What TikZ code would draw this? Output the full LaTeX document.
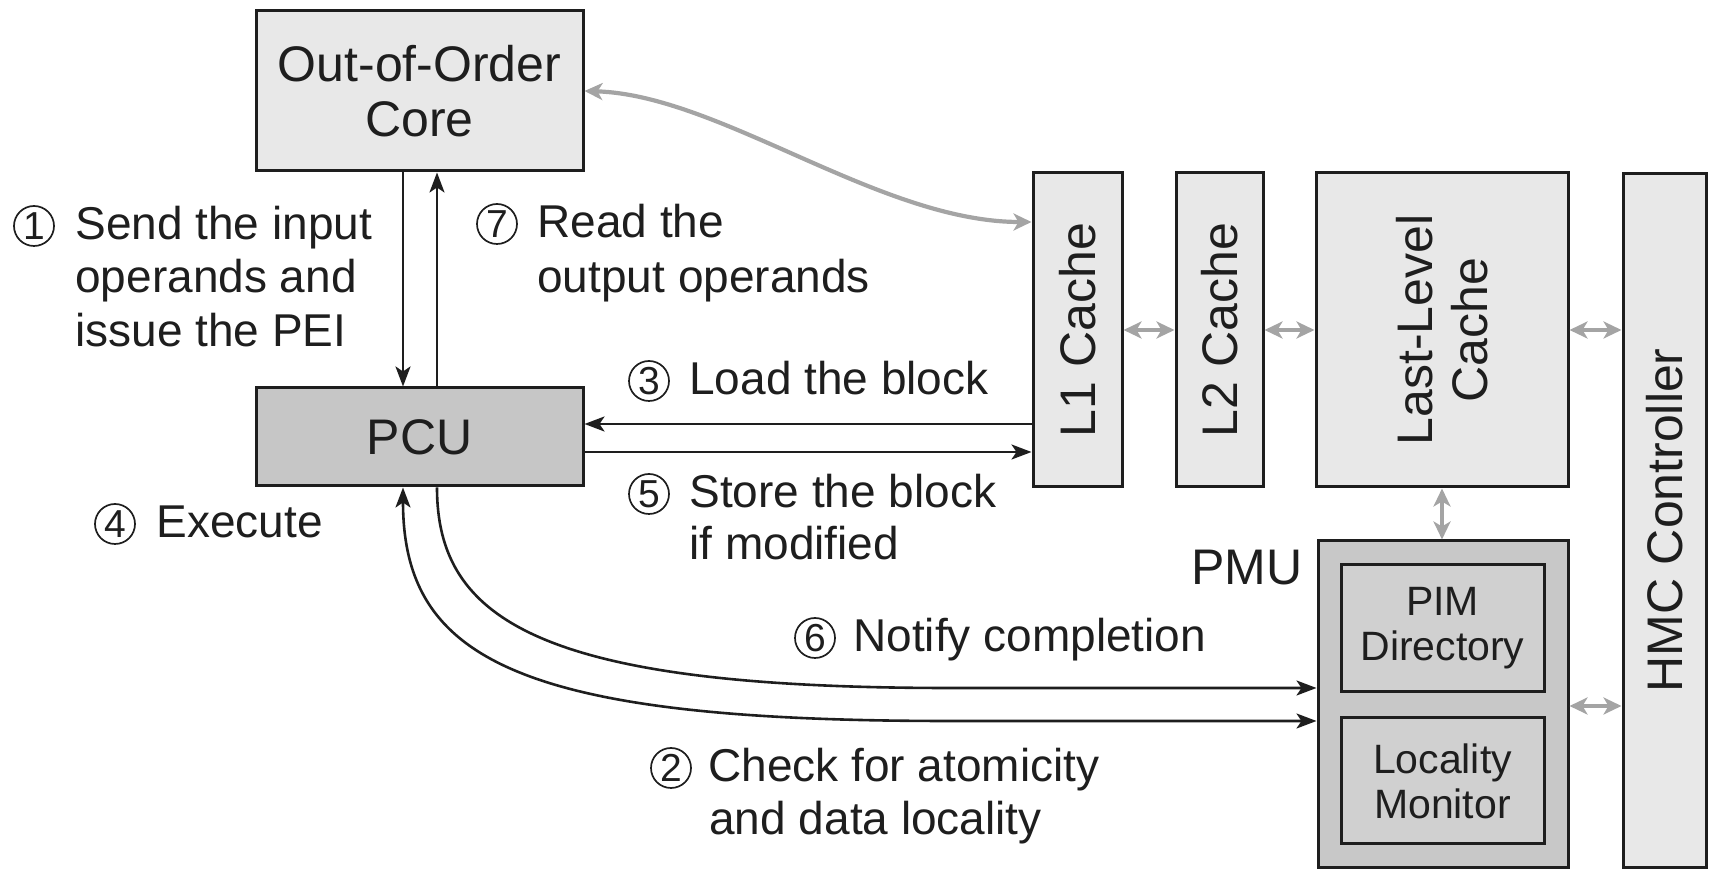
\documentclass[tikz,border=0pt]{standalone}
\usepackage{fontspec}
\setmainfont{Liberation Sans}
\usetikzlibrary{arrows.meta}

\definecolor{ink}{HTML}{1E1E1E}
\definecolor{lightfill}{HTML}{E8E8E8}
\definecolor{darkfill}{HTML}{C6C6C6}
\definecolor{pmufill}{HTML}{C8C8C8}
\definecolor{innerfill}{HTML}{D0D0D0}
\definecolor{linkgray}{HTML}{A4A4A4}

\begin{document}
\begin{tikzpicture}[x=0.5pt,y=-0.5pt,
  unit/.style={draw=ink, line width=1.5pt, inner sep=0pt, rectangle},
  lightunit/.style={unit, fill=lightfill},
  darkunit/.style={unit, fill=darkfill},
  boxtext/.style={font=\fontsize{25pt}{27.5pt}\selectfont, text=ink, align=center, inner sep=0pt},
  innertext/.style={font=\fontsize{20.5pt}{22.5pt}\selectfont, text=ink, align=center},
  lbl/.style={font=\fontsize{23pt}{27pt}\selectfont, text=ink, inner sep=0pt, anchor=base west},
  num/.style={circle, draw=ink, line width=0.85pt, minimum size=20pt, inner sep=0pt,
              font=\fontsize{19.5pt}{20pt}\selectfont, text=ink},
  flow/.style={draw=ink, line width=1.3pt, -{Stealth[length=10pt,width=7.5pt,inset=2.5pt]}},
  flowboth/.style={draw=ink, line width=1.3pt, {Stealth[length=10pt,width=7.5pt,inset=2.5pt]}-{Stealth[length=10pt,width=7.5pt,inset=2.5pt]}},
  bus/.style={draw=linkgray, line width=2.1pt, {Stealth[length=9pt,width=8.5pt,inset=2.5pt]}-{Stealth[length=9pt,width=8.5pt,inset=2.5pt]}},
]
\useasboundingbox (0,0) rectangle (1710,870);

% core side
\node[lightunit, boxtext, minimum width=163.5pt, minimum height=80pt] (ooo) at (419.5,91) {Out-of-Order\\Core};
\node[darkunit, boxtext, minimum width=163.5pt, minimum height=49pt] (pcu) at (419.5,437) {PCU};

% cache hierarchy
\node[lightunit, minimum width=44.5pt, minimum height=157pt] (l1) at (1077.5,330) {};
\node[boxtext, rotate=90] (l1t) at (l1.center) {L1 Cache};
\node[lightunit, minimum width=43.5pt, minimum height=157pt] (l2) at (1219.5,330) {};
\node[boxtext, rotate=90] (l2t) at (l2.center) {L2 Cache};
\node[lightunit, minimum width=126pt, minimum height=157pt] (llc) at (1442,330) {};
\node[boxtext, rotate=90] (llct) at (llc.center) {Last-Level\\Cache};
\node[lightunit, minimum width=41.5pt, minimum height=347pt] (hmc) at (1664.5,520.5) {};
\node[boxtext, rotate=90] (hmct) at (hmc.center) {HMC Controller};

% PIM management unit
\node[unit, fill=pmufill, minimum width=125pt, minimum height=163.5pt] (pmu) at (1443,704.5) {};
\node[unit, fill=innerfill, innertext, minimum width=101.5pt, minimum height=63.5pt] (pimd) at (1442.5,628.5) {PIM\\Directory};
\node[unit, fill=innerfill, innertext, minimum width=101.5pt, minimum height=63pt] (locm) at (1442.5,781) {Locality\\Monitor};
\node[lbl, font=\fontsize{25pt}{27.5pt}\selectfont] (pmut) at (1191,585) {PMU};

% step labels: circled step number, then the text lines
\node[num] (n1) at (34,226) {1};
\node[lbl] (s1a) at (75,240) {Send the input};
\node[lbl] (s1b) at (75,293) {operands and};
\node[lbl] (s1c) at (75,347) {issue the PEI};

\node[num] (n7) at (497,224) {7};
\node[lbl] (s7a) at (537,238) {Read the};
\node[lbl] (s7b) at (537,293) {output operands};

\node[num] (n3) at (649,381) {3};
\node[lbl] (s3) at (689,395) {Load the block};

\node[num] (n5) at (649,494) {5};
\node[lbl] (s5a) at (689,508) {Store the block};
\node[lbl] (s5b) at (689,560) {if modified};

\node[num] (n4) at (115,524) {4};
\node[lbl] (s4) at (156,538) {Execute};

\node[num] (n6) at (815,638) {6};
\node[lbl] (s6) at (853,652) {Notify completion};

\node[num] (n2) at (671,768) {2};
\node[lbl] (s2a) at (708,782) {Check for atomicity};
\node[lbl] (s2b) at (709,835) {and data locality};

% core <-> PCU
\draw[flow] (ooo.south -| 403,0) -- (pcu.north -| 403,0);
\draw[flow] (pcu.north -| 437,0) -- (ooo.south -| 437,0);

% PCU <-> L1
\draw[flow] (l1.west |- 0,424) -- (pcu.east |- 0,424);
\draw[flow] (pcu.east |- 0,452) -- (l1.west |- 0,452);

% PCU <-> PMU
\draw[flow] (pcu.south -| 437,0) .. controls (437,620) and (540,688) .. (950,688) -- (pmu.west |- 0,688);
\draw[flowboth] (pmu.west |- 0,721) -- (950,721) .. controls (520,721) and (403,660) .. (pcu.south -| 403,0);

% memory-side links
\draw[bus] (ooo.east) .. controls (720,95) and (880,222) .. (l1.west |- 0,222);
\draw[bus] (l1.east |- 0,330) -- (l2.west |- 0,330);
\draw[bus] (l2.east |- 0,330) -- (llc.west |- 0,330);
\draw[bus] (llc.east |- 0,330) -- (hmc.west |- 0,330);
\draw[bus] (llc.south) -- (pmu.north -| llc.south);
\draw[bus] (pmu.east |- 0,706) -- (hmc.west |- 0,706);
\end{tikzpicture}
\end{document}
